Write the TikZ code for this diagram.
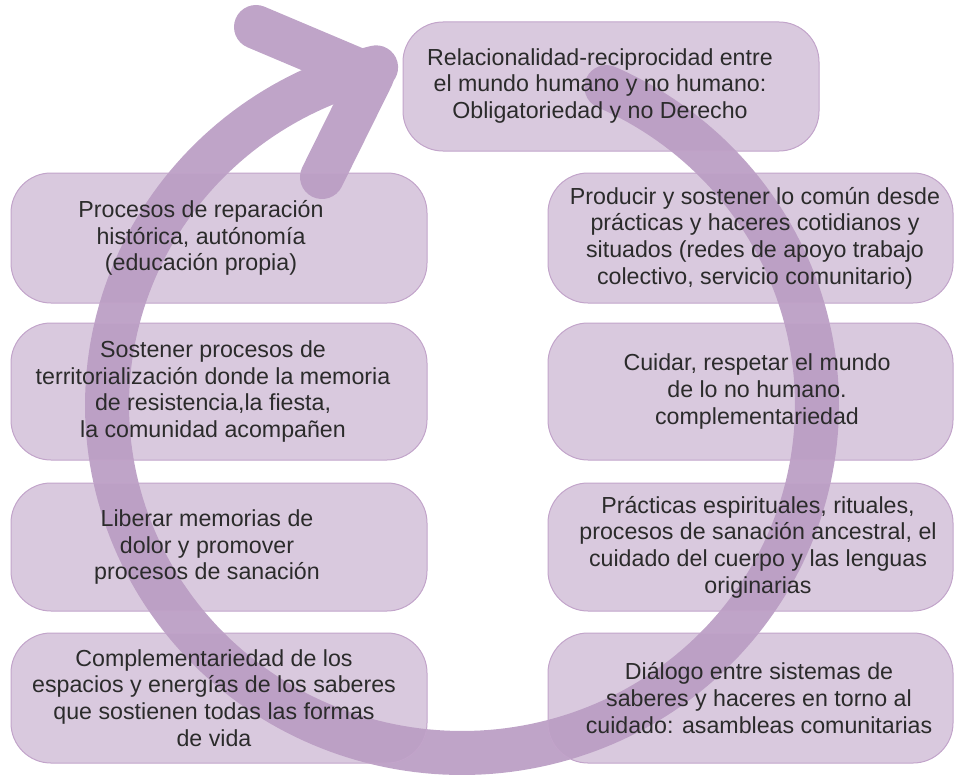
\documentclass[tikz,border=0pt]{standalone}
\usepackage{fontspec}
\setmainfont{Liberation Sans}
\definecolor{arrowc}{HTML}{BFA4C8}
\definecolor{boxfill}{HTML}{BA9DC3}
\definecolor{boxline}{HTML}{C2A4CA}
\definecolor{txt}{HTML}{2B2B2B}
\begin{document}
\begin{tikzpicture}[x=0.75pt,y=-0.75pt,
  box/.style={draw=boxline, line width=0.75pt, fill=boxfill, fill opacity=0.55, rounded corners=30pt, inner sep=0pt, minimum width=312pt},
  rbox/.style={box, minimum width=303.75pt},
  lbl/.style={text=txt, font=\fontsize{17.4}{20}\selectfont, align=center, inner sep=0pt},
  band/.style={draw=arrowc, line width=33pt, line cap=round, line join=round}]
\useasboundingbox (0,0) rectangle (955,774);
% circular arrow
\draw[band] plot[domain=66:-256, samples=220] ({462+355*cos(\x)}, {405-348*sin(\x)});
\draw[band] (256,27) -- (372,76) -- (322,177);
% boxes
\node[box, minimum height=96.75pt] (top) at (611,86.5) {};
\node[box, minimum height=97.5pt] (l1) at (219,238) {};
\node[box, minimum height=102.75pt] (l2) at (219,391.5) {};
\node[box, minimum height=96pt] (l3) at (219,547) {};
\node[box, minimum height=97.5pt] (l4) at (219,698) {};
\node[rbox, minimum height=97.5pt] (r1) at (750.5,238) {};
\node[rbox, minimum height=102.75pt] (r2) at (750.5,391.5) {};
\node[rbox, minimum height=96pt] (r3) at (750.5,547) {};
\node[rbox, minimum height=97.5pt] (r4) at (750.5,698) {};
% texts
\node[lbl] (ttop) at (600,86) {Relacionalidad-reciprocidad entre\\el mundo humano y no humano:\\Obligatoriedad y no Derecho};
\node[lbl] (tl1) at (201,238) {Procesos de reparación\\histórica, autónomía\\(educación propia)};
\node[lbl] (tl2) at (213,391.5) {Sostener procesos de\\territorialización donde la memoria\\de resistencia,la fiesta,\\la comunidad acompañen};
\node[lbl] (tl3) at (207,547) {Liberar memorias de\\dolor y promover\\procesos de sanación};
\node[lbl] (tl4) at (214,698) {Complementariedad de los\\espacios y energías de los saberes\\que sostienen todas las formas\\de vida};
\node[lbl] (tr1) at (755,238) {Producir y sostener lo común desde\\prácticas y haceres cotidianos y\\situados (redes de apoyo trabajo\\colectivo, servicio comunitario)};
\node[lbl] (tr2) at (757,391.5) {Cuidar, respetar el mundo\\de lo no humano.\\complementariedad};
\node[lbl] (tr3) at (758,547) {Prácticas espirituales, rituales,\\procesos de sanación ancestral, el\\cuidado del cuerpo y las lenguas\\originarias};
\node[lbl] (tr4) at (759,698) {Diálogo entre sistemas de\\saberes y haceres en torno al\\cuidado: asambleas comunitarias};
\end{tikzpicture}
\end{document}
